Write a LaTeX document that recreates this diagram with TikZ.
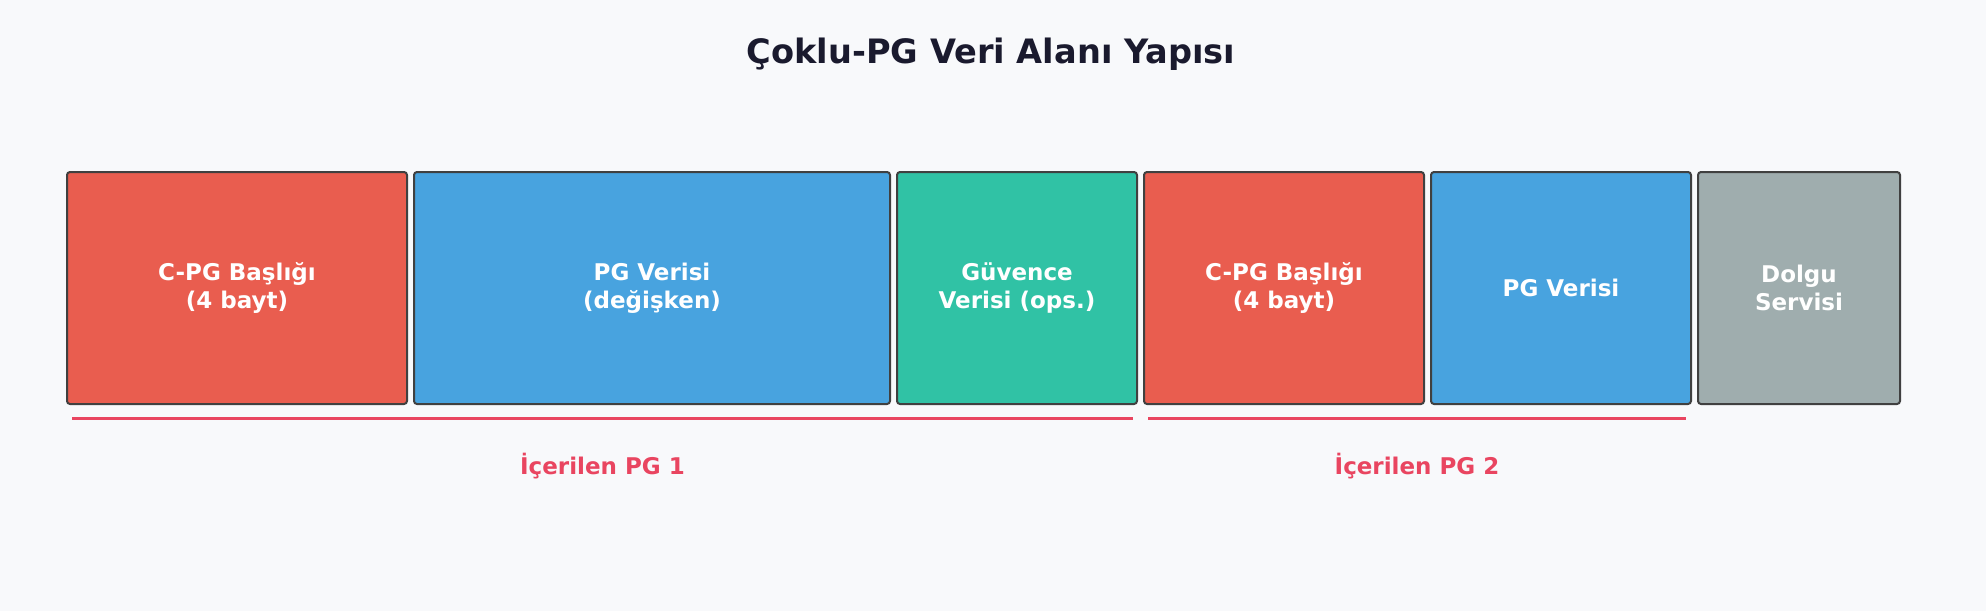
\documentclass[tikz,border=0pt]{standalone}
\usepackage{fontspec}
\setmainfont{DejaVu Sans}
\usetikzlibrary{positioning, calc}
\definecolor{bgc}{HTML}{F8F9FB}
\definecolor{hdrc}{HTML}{E95D4F}
\definecolor{datc}{HTML}{48A3DF}
\definecolor{grdc}{HTML}{30C2A5}
\definecolor{padc}{HTML}{9FADAE}
\definecolor{edgec}{HTML}{404040}
\definecolor{pgc}{HTML}{E94560}
\definecolor{ttlc}{HTML}{1A1A2E}
\tikzstyle{field} = [rectangle, rounded corners=3pt, minimum height=232pt, inner sep=0pt, text centered, align=center, draw=edgec, line width=2pt, text=white, font=\fontsize{23}{28}\selectfont\bfseries]
\tikzstyle{hdr} = [field, fill=hdrc]
\tikzstyle{dat} = [field, fill=datc]
\tikzstyle{grd} = [field, fill=grdc]
\tikzstyle{pad} = [field, fill=padc]
\tikzstyle{span} = [line width=3pt, color=pgc]
\tikzstyle{spanlbl} = [text=pgc, anchor=base, font=\fontsize{23}{28}\selectfont\bfseries]

\begin{document}
\begin{tikzpicture}[x=1pt, y=-1pt, node distance=5pt]
\fill [bgc] (0,0) rectangle (1986,611);
\useasboundingbox (0,0) rectangle (1986,611);

\node (title) [anchor=base, font=\fontsize{33.6}{40}\selectfont\bfseries, text=ttlc] at (991,63) {Çoklu-PG Veri Alanı Yapısı};

\node (hdr1) [hdr, anchor=north west, minimum width=340pt] at (66,171) {C-PG Başlığı\\(4 bayt)};
\node (dat1) [dat, right=of hdr1, minimum width=476pt] {PG Verisi\\(değişken)};
\node (grd1) [grd, right=of dat1, minimum width=240pt] {Güvence\\Verisi (ops.)};
\node (hdr2) [hdr, right=of grd1, minimum width=280pt] {C-PG Başlığı\\(4 bayt)};
\node (dat2) [dat, right=of hdr2, minimum width=260pt] {PG Verisi};
\node (pad1) [pad, right=of dat2, minimum width=202pt] {Dolgu\\Servisi};

\coordinate (pg1a) at ([xshift=6pt, yshift=-13pt]hdr1.south west);
\coordinate (pg1b) at ([xshift=-5pt, yshift=-13pt]grd1.south east);
\coordinate (pg2a) at ([xshift=5pt, yshift=-13pt]hdr2.south west);
\coordinate (pg2b) at ([xshift=-6pt, yshift=-13pt]dat2.south east);

\draw [span] (pg1a) -- (pg1b);
\draw [span] (pg2a) -- (pg2b);

\node (lbl1) [spanlbl] at ($(pg1a)!0.5!(pg1b) + (0,56)$) {İçerilen PG 1};
\node (lbl2) [spanlbl] at ($(pg2a)!0.5!(pg2b) + (0,56)$) {İçerilen PG 2};

\end{tikzpicture}
\end{document}
